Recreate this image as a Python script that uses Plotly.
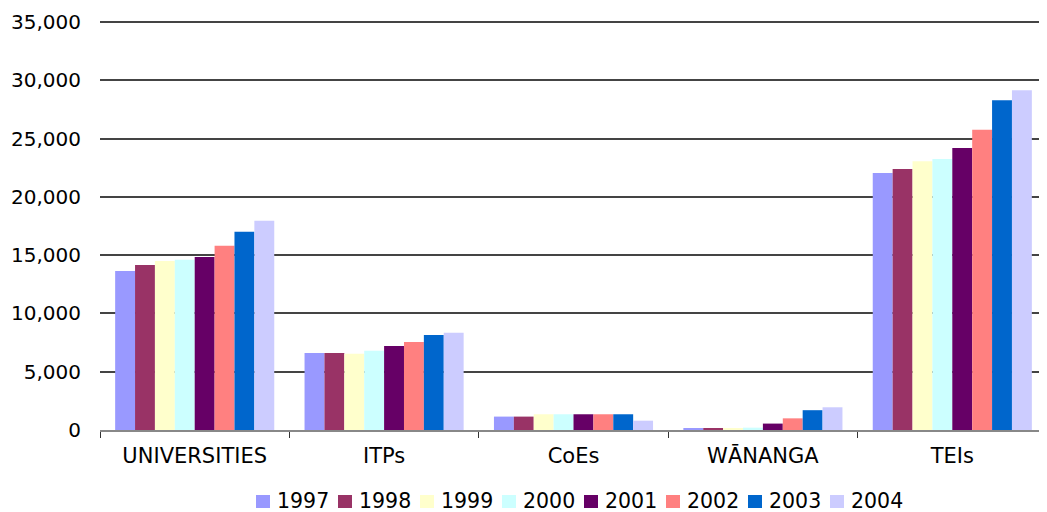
import plotly.graph_objects as go

categories = ["UNIVERSITIES", "ITPs", "CoEs", "WĀNANGA", "TEIs"]
years = ["1997", "1998", "1999", "2000", "2001", "2002", "2003", "2004"]

# enrolments per year, one list per year (universities, ITPs, CoEs, wananga, TEIs)
v1997 = [13650, 6600, 1150, 150, 22050]
v1998 = [14150, 6600, 1150, 150, 22400]
v1999 = [14500, 6550, 1350, 100, 23050]
v2000 = [14600, 6800, 1350, 200, 23250]
v2001 = [14850, 7200, 1350, 550, 24200]
v2002 = [15800, 7550, 1350, 1000, 25750]
v2003 = [17000, 8150, 1350, 1700, 28300]
v2004 = [17950, 8350, 800, 1950, 29150]

series = [v1997, v1998, v1999, v2000, v2001, v2002, v2003, v2004]
colors = ["#9999FF", "#993366", "#FFFFCC", "#CCFFFF", "#660066", "#FF8080", "#0066CC", "#CCCCFF"]

fig = go.Figure()
for yr, vals, c in zip(years, series, colors):
    fig.add_bar(x=categories, y=vals, name=yr, marker=dict(color=c, line=dict(width=0)),
                showlegend=False)

# legend drawn by hand so the entries sit as tightly as in the original
W, H = 947, 409  # plot area in px
def px_x(p):
    return p / W
def px_y(p):
    return -p / H

for i, (yr, c) in enumerate(zip(years, colors)):
    x0 = 156 + 82 * i
    fig.add_shape(type="rect", xref="paper", yref="paper",
                  x0=px_x(x0), x1=px_x(x0 + 14), y0=px_y(65), y1=px_y(78),
                  fillcolor=c, line=dict(width=0))
    fig.add_annotation(text=yr, xref="paper", yref="paper", x=px_x(x0 + 19), y=px_y(71),
                       xanchor="left", yanchor="middle", showarrow=False,
                       font=dict(size=20.5))

# page body has an 8px margin, so the figure is a bit smaller than the window
fig.update_layout(
    width=1039, height=504,
    margin=dict(l=92, r=0, t=13, b=82, autoexpand=False),
    barmode="group", bargap=0.16, bargroupgap=0,
    paper_bgcolor="white", plot_bgcolor="white",
    font=dict(family="DejaVu Sans, Verdana, sans-serif", size=20, color="black"),
)
fig.update_xaxes(type="category", showline=True, linecolor="#888888", linewidth=2,
                 ticks="outside", tickson="boundaries", ticklen=6, tickcolor="#333333",
                 showgrid=False, ticklabelstandoff=6, tickfont=dict(size=21))
fig.update_yaxes(range=[0, 35090], dtick=5000, tickformat=",", showgrid=True,
                 gridcolor="#444444", gridwidth=1.5, zeroline=False, showline=False,
                 ticks="", ticklabelstandoff=18)

fig.write_html("out.html")
